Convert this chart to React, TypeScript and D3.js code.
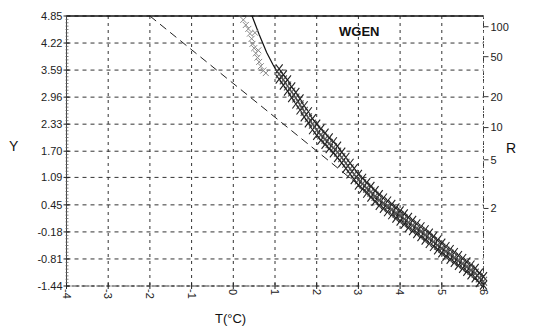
import React from "react";
import * as d3 from "d3";

const W = 534, H = 331;

const xTicks = [-4, -3, -2, -1, 0, 1, 2, 3, 4, 5, 6];
const yTickLabels = ["4.85", "4.22", "3.59", "2.96", "2.33", "1.70", "1.09", "0.45", "-0.18", "-0.81", "-1.44"];
const rTicks = [100, 50, 20, 10, 5, 2];

// fitted dashed line (T, Y)
const fitLine: [number, number][] = [[-2, 4.85], [6, -1.44]];

// light grey crosses in the upper part
const upperPoints: [number, number][] = [
  [0.24, 4.76], [0.30, 4.64], [0.36, 4.55], [0.40, 4.44], [0.44, 4.32], [0.46, 4.20],
  [0.50, 4.10], [0.54, 3.98], [0.58, 3.88], [0.62, 3.78], [0.66, 3.68], [0.72, 3.58],
  [0.78, 3.52], [0.52, 4.46], [0.60, 4.05],
];

// main band: T, then three Y values per column
const bandRows: [number, number, number, number][] = [
  [1.1, 3.62, 3.50, 3.38], [1.2, 3.48, 3.36, 3.24], [1.3, 3.36, 3.22, 3.10], [1.4, 3.20, 3.08, 2.95],
  [1.5, 3.07, 2.94, 2.80], [1.6, 2.92, 2.78, 2.66], [1.7, 2.76, 2.63, 2.50], [1.8, 2.62, 2.48, 2.36],
  [1.9, 2.46, 2.33, 2.20], [2.0, 2.33, 2.19, 2.07], [2.1, 2.22, 2.08, 1.96], [2.2, 2.12, 1.98, 1.86],
  [2.3, 2.01, 1.88, 1.76], [2.4, 1.92, 1.78, 1.66], [2.5, 1.82, 1.68, 1.55], [2.6, 1.68, 1.55, 1.43],
  [2.7, 1.56, 1.42, 1.30], [2.8, 1.42, 1.29, 1.17], [2.9, 1.30, 1.16, 1.04], [3.0, 1.16, 1.03, 0.91],
  [3.1, 1.07, 0.94, 0.82], [3.2, 0.97, 0.84, 0.72], [3.3, 0.88, 0.75, 0.63], [3.4, 0.78, 0.65, 0.53],
  [3.5, 0.69, 0.56, 0.44], [3.6, 0.61, 0.49, 0.37], [3.7, 0.54, 0.41, 0.29], [3.8, 0.46, 0.34, 0.22],
  [3.9, 0.38, 0.26, 0.14], [4.0, 0.31, 0.19, 0.07], [4.1, 0.24, 0.12, 0.00], [4.2, 0.16, 0.04, -0.08],
  [4.3, 0.09, -0.03, -0.15], [4.4, 0.01, -0.10, -0.22], [4.5, -0.06, -0.17, -0.29], [4.6, -0.13, -0.25, -0.37],
  [4.7, -0.21, -0.33, -0.45], [4.8, -0.29, -0.41, -0.52], [4.9, -0.37, -0.49, -0.60], [5.0, -0.44, -0.56, -0.67],
  [5.1, -0.52, -0.63, -0.75], [5.2, -0.59, -0.70, -0.82], [5.3, -0.66, -0.78, -0.89], [5.4, -0.73, -0.85, -0.96],
  [5.5, -0.80, -0.92, -1.03], [5.6, -0.88, -0.99, -1.10], [5.7, -0.95, -1.07, -1.18], [5.8, -1.03, -1.14, -1.25],
  [5.9, -1.14, -1.25, -1.36], [6.0, -1.22, -1.33, -1.42],
];

// solid line from top into the band
const leadLine: [number, number][] = [[0.45, 4.85], [0.62, 4.42], [0.80, 4.00], [0.95, 3.72], [1.05, 3.55]];

const gumbel = (R: number) => -Math.log(-Math.log(1 - 1 / R));

export default function App() {
  const x = d3.scaleLinear().domain([-4, 6]).range([66.5, 483.5]);
  const y = d3.scaleLinear().domain([-1.44, 4.85]).range([286, 16]);
  const line = d3.line<[number, number]>().x(d => x(d[0])).y(d => y(d[1]));
  const bandMid: [number, number][] = bandRows.map(r => [r[0], r[2]]);
  const bandPts: [number, number][] = bandRows.flatMap(r => [[r[0], r[1]], [r[0], r[2]], [r[0], r[3]]] as [number, number][]);
  const x0 = x(-4), x1 = x(6), yTop = y(4.85), yBot = y(-1.44);
  const font = "Liberation Sans, Arial, sans-serif";
  const cross = (px: number, py: number, sx: number, sy: number) => `M${px - sx},${py - sy}L${px + sx},${py + sy}M${px - sx},${py + sy}L${px + sx},${py - sy}`;
  const minorLeft = d3.range(yTop, yBot, 3.375);
  return (
    <svg width={W} height={H} style={{ position: "absolute", left: 0, top: 0, background: "#fff" }}>
      <rect width={W} height={H} fill="#fff" />
      {/* grid */}
      {yTickLabels.map((l, i) => (
        <line key={"h" + i} x1={x0} x2={x1} y1={y(+l)} y2={y(+l)} stroke="#333" strokeWidth={1} strokeDasharray="4,4" />
      ))}
      {xTicks.map((t, i) => (
        <line key={"v" + i} x1={x(t)} x2={x(t)} y1={yTop} y2={yBot} stroke="#333" strokeWidth={1} strokeDasharray="3,4" />
      ))}
      {/* axes frame */}
      <line x1={x0} x2={x1} y1={yTop} y2={yTop} stroke="#111" strokeWidth={1.6} />
      <line x1={x0} x2={x0} y1={yTop} y2={yBot} stroke="#444" strokeWidth={1} />
      {minorLeft.map((v, i) => (
        <line key={"ml" + i} x1={x0 - 1} x2={x0 + 2} y1={v} y2={v} stroke="#666" strokeWidth={0.8} />
      ))}
      <line x1={x1} x2={x1} y1={yTop} y2={yBot} stroke="#666" strokeWidth={1} strokeDasharray="2,3" />
      <line x1={x0} x2={x1} y1={yBot} y2={yBot} stroke="#333" strokeWidth={1} strokeDasharray="3,2" />
      {/* y ticks & labels */}
      {yTickLabels.map((l, i) => (
        <g key={"yl" + i}>
          <line x1={x0 - 3} x2={x0 + 3} y1={y(+l)} y2={y(+l)} stroke="#222" />
          <text x={x0 - 4} y={y(+l)} dy="0.35em" textAnchor="end" fontFamily={font} fontSize={11} fill="#222">{l}</text>
        </g>
      ))}
      {/* x ticks & labels rotated */}
      {xTicks.map((t, i) => (
        <g key={"xl" + i}>
          <line x1={x(t)} x2={x(t)} y1={yBot - 3} y2={yBot + 3} stroke="#222" />
          <text transform={`translate(${x(t)},${yBot + 3}) rotate(90)`} dominantBaseline="central" textAnchor="start" fontFamily={font} fontSize={11} fill="#222">{t}</text>
        </g>
      ))}
      {/* right R axis */}
      {rTicks.map((r, i) => (
        <g key={"r" + i}>
          <line x1={x1} x2={x1 + 5} y1={y(gumbel(r))} y2={y(gumbel(r))} stroke="#333" />
          <text x={x1 + 7} y={y(gumbel(r))} dy="0.35em" fontFamily={font} fontSize={11} fill="#222">{r}</text>
        </g>
      ))}
      {/* fitted dashed line */}
      <path d={line(fitLine) || ""} fill="none" stroke="#222" strokeWidth={1} strokeDasharray="8,5" />
      {/* lead solid line */}
      <path d={line([...leadLine, ...bandMid]) || ""} fill="none" stroke="#111" strokeWidth={1.2} />
      {/* upper grey crosses */}
      {upperPoints.map((p, i) => (
        <path key={"u" + i} d={cross(x(p[0]), y(p[1]), 3, 3)} stroke="#888" strokeWidth={1} fill="none" />
      ))}
      {/* band crosses */}
      {bandPts.map((p, i) => (
        <path key={"b" + i} d={cross(x(p[0]), y(p[1]), 3.5, 4.5)} stroke={i % 3 === 1 ? "#555" : "#222"} strokeWidth={1.1} fill="none" />
      ))}
      {/* titles */}
      <text x={339} y={31} dy="0.35em" fontFamily={font} fontSize={13} fill="#111" fontWeight="bold">WGEN</text>
      <text x={9} y={146} dy="0.35em" fontFamily={font} fontSize={14} fill="#111">Y</text>
      <text x={506} y={148} dy="0.35em" fontFamily={font} fontSize={14} fill="#111">R</text>
      <text x={215} y={318} dy="0.35em" fontFamily={font} fontSize={13} fill="#111">T(°C)</text>
    </svg>
  );
}
